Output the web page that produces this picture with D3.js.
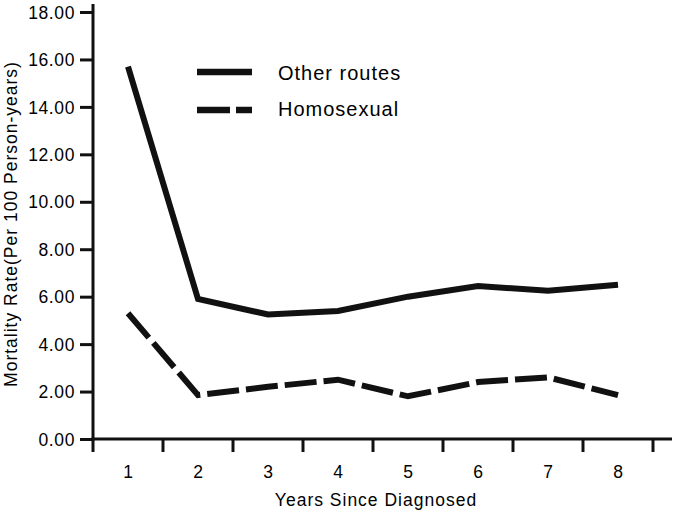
<!DOCTYPE html>
<html>
<head>
<meta charset="utf-8">
<script src="https://cdn.jsdelivr.net/npm/d3@7"></script>
<style>
  html, body { margin: 0; padding: 0; background: #fff; }
  svg { display: block; }
  text { font-family: "Liberation Sans", Arial, sans-serif; fill: #000; }
</style>
</head>
<body>
<svg id="chart" width="675" height="512"></svg>
<script>
const categories = ["1", "2", "3", "4", "5", "6", "7", "8"];
const otherRoutes = [15.7, 5.9, 5.25, 5.4, 6.0, 6.45, 6.25, 6.5];
const homosexual = [5.3, 1.85, 2.2, 2.5, 1.8, 2.4, 2.6, 1.85];
const yTicks = [0, 2, 4, 6, 8, 10, 12, 14, 16, 18];
const seriesNames = ["Other routes", "Homosexual"];
const xTitle = "Years Since Diagnosed";
const yTitle = "Mortality Rate(Per 100 Person-years)";

const ink = "#111";
const svg = d3.select("#chart");

const x = d3.scaleBand().domain(categories).range([93, 653]);
const y = d3.scaleLinear().domain([0, 18]).range([439, 12]);
const cx = c => x(c) + x.bandwidth() / 2;

// Y axis
const yAxis = svg.append("g").attr("transform", "translate(93,0)")
  .call(d3.axisLeft(y).tickValues(yTicks).tickFormat(d3.format(".2f")).tickSize(13).tickPadding(5));
yAxis.select(".domain").remove();
yAxis.selectAll(".tick line").attr("stroke", ink).attr("stroke-width", 3);
yAxis.selectAll(".tick text").attr("font-size", 17.5).style("letter-spacing", "0.6px")
  .attr("font-family", "Liberation Sans, Arial, sans-serif").attr("fill", "#000").attr("dy", "0.35em");
svg.append("line").attr("x1", 93).attr("x2", 93).attr("y1", y(18) - 8).attr("y2", y(0) + 1.5)
  .attr("stroke", ink).attr("stroke-width", 3);

// X axis
const bounds = categories.map(c => x(c)).concat([x.range()[1]]);
svg.append("line").attr("x1", 91.5).attr("x2", x.range()[1] + 19).attr("y1", y(0)).attr("y2", y(0))
  .attr("stroke", ink).attr("stroke-width", 3);
svg.selectAll(".xtick").data(bounds).enter().append("line")
  .attr("x1", d => d).attr("x2", d => d).attr("y1", y(0)).attr("y2", y(0) + 13)
  .attr("stroke", ink).attr("stroke-width", 3);
svg.selectAll(".xlab").data(categories).enter().append("text")
  .attr("x", d => cx(d)).attr("y", 478).attr("text-anchor", "middle")
  .attr("font-size", 17.5).text(d => d);

// Titles
svg.append("text").attr("x", 376).attr("y", 506).attr("text-anchor", "middle")
  .attr("font-size", 17.5).style("letter-spacing", "1px").text(xTitle);
svg.append("text").attr("transform", "translate(17,224) rotate(-90)").attr("text-anchor", "middle")
  .attr("font-size", 17.5).style("letter-spacing", "1px").text(yTitle);

// Lines
const line = d3.line().x((d, i) => cx(categories[i])).y(d => y(d));
svg.append("path").datum(otherRoutes).attr("d", line)
  .attr("fill", "none").attr("stroke", ink).attr("stroke-width", 6).attr("stroke-linejoin", "miter");
svg.append("path").datum(homosexual).attr("d", line)
  .attr("fill", "none").attr("stroke", ink).attr("stroke-width", 6).attr("stroke-linejoin", "miter")
  .attr("stroke-dasharray", "32,7");

// Legend
const legend = [
  { name: seriesNames[0], ly: 72, ty: 80, dash: null },
  { name: seriesNames[1], ly: 110, ty: 116, dash: "33,6" }
];
legend.forEach(l => {
  const ln = svg.append("line").attr("x1", 197).attr("x2", 252).attr("y1", l.ly).attr("y2", l.ly)
    .attr("stroke", ink).attr("stroke-width", 6.5);
  if (l.dash) ln.attr("stroke-dasharray", l.dash);
  svg.append("text").attr("x", 278).attr("y", l.ty).attr("font-size", 20)
    .style("letter-spacing", "1px").text(l.name);
});
</script>
</body>
</html>
